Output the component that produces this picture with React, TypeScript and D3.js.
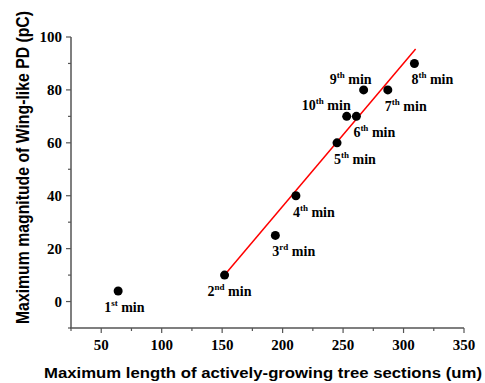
import React, { useEffect, useRef } from 'react';
import * as d3 from 'd3';

const minuteLabels = ['1', '2', '3', '4', '5', '6', '7', '8', '9', '10'];
const minuteSuffix = ['st', 'nd', 'rd', 'th', 'th', 'th', 'th', 'th', 'th', 'th'];
const lengthUm = [64, 152, 194, 211, 245, 261, 287, 309, 267, 253];
const magnitudePc = [4, 10, 25, 40, 60, 70, 80, 90, 80, 70];

// linear fit (2nd..8th min)
const fitX = [152, 310];
const fitY = [10, 95.5];

const xTicks = [50, 100, 150, 200, 250, 300, 350];
const yTicks = [0, 20, 40, 60, 80, 100];

const App: React.FC = () => {
  const svgRef = useRef<SVGSVGElement | null>(null);

  useEffect(() => {
    if (!svgRef.current) return;
    const W = 485;
    const H = 383;
    const svg = d3.select(svgRef.current).attr('width', W).attr('height', H);
    svg.selectAll('*').remove();

    const left = 71, right = 464, top = 37, bottom = 328;
    const x = d3.scaleLinear().domain([25, 350]).range([left, right]);
    const y = d3.scaleLinear().domain([-10, 100]).range([bottom, top]);

    const axisColor = '#555';
    const serif = '"Liberation Serif", "Times New Roman", serif';
    const sans = '"Liberation Sans", Arial, sans-serif';

    // minor ticks
    const xMinor = d3.range(25, 351, 25).filter(v => !xTicks.includes(v));
    const yMinor = d3.range(-10, 101, 10).filter(v => !yTicks.includes(v));

    const gx = svg.append('g').attr('transform', `translate(0,${bottom})`);
    gx.append('line').attr('x1', left - 1).attr('x2', right).attr('stroke', axisColor).attr('stroke-width', 1.5);
    gx.selectAll('.maj').data(xTicks).enter().append('line')
      .attr('x1', d => x(d)).attr('x2', d => x(d)).attr('y1', 0).attr('y2', 5)
      .attr('stroke', axisColor).attr('stroke-width', 1.2);
    gx.selectAll('.min').data(xMinor).enter().append('line')
      .attr('x1', d => x(d)).attr('x2', d => x(d)).attr('y1', 0).attr('y2', 3)
      .attr('stroke', axisColor).attr('stroke-width', 1.2);
    gx.selectAll('.lab').data(xTicks).enter().append('text')
      .attr('x', d => x(d)).attr('y', 22)
      .attr('text-anchor', 'middle')
      .attr('font-family', serif).attr('font-weight', 'bold').attr('font-size', 15)
      .text(d => d);

    const gy = svg.append('g').attr('transform', `translate(${left},0)`);
    gy.append('line').attr('y1', top).attr('y2', bottom).attr('stroke', axisColor).attr('stroke-width', 1.5);
    gy.selectAll('.maj').data(yTicks).enter().append('line')
      .attr('y1', d => y(d)).attr('y2', d => y(d)).attr('x1', 0).attr('x2', -5)
      .attr('stroke', axisColor).attr('stroke-width', 1.2);
    gy.selectAll('.min').data(yMinor).enter().append('line')
      .attr('y1', d => y(d)).attr('y2', d => y(d)).attr('x1', 0).attr('x2', -3)
      .attr('stroke', axisColor).attr('stroke-width', 1.2);
    gy.selectAll('.lab').data(yTicks).enter().append('text')
      .attr('x', -9).attr('y', d => y(d) + 5)
      .attr('text-anchor', 'end')
      .attr('font-family', serif).attr('font-weight', 'bold').attr('font-size', 15)
      .text(d => d);

    // axis titles (the original is a bit wider than tall, hence the scale)
    svg.append('text')
      .attr('transform', 'translate(263,378) scale(1.08,1)')
      .attr('text-anchor', 'middle')
      .attr('font-family', sans).attr('font-weight', 'bold').attr('font-size', 15.5)
      .text('Maximum length of actively-growing tree sections (um)');
    svg.append('text')
      .attr('transform', 'translate(29,167.5) scale(1.12,1) rotate(-90)')
      .attr('text-anchor', 'middle')
      .attr('font-family', sans).attr('font-weight', 'bold').attr('font-size', 15.8)
      .text('Maximum magnitude of Wing-like PD (pC)');

    // fit line
    const line = d3.line<number>().x((d, i) => x(fitX[i])).y(d => y(d));
    svg.append('path').datum(fitY).attr('d', line)
      .attr('fill', 'none').attr('stroke', '#f00').attr('stroke-width', 1.5);

    // points
    const idx = d3.range(lengthUm.length);
    svg.selectAll('circle').data(idx).enter().append('circle')
      .attr('cx', i => x(lengthUm[i])).attr('cy', i => y(magnitudePc[i]))
      .attr('r', 4.5).attr('fill', '#000');

    // labels
    const above = (i: number) => i === 8 || i === 9;
    const labels = svg.selectAll('.pl').data(idx).enter().append('text')
      .attr('x', i => {
        const px = x(lengthUm[i]);
        if (above(i)) return px + (i === 8 ? 8 : 4);
        if (i === 0) return px - 14;
        if (i === 1) return px - 17;
        return px - 3;
      })
      .attr('y', i => y(magnitudePc[i]) + (above(i) ? -6 : 21))
      .attr('text-anchor', i => (above(i) ? 'end' : 'start'))
      .attr('font-family', serif).attr('font-weight', 'bold').attr('font-size', 14);
    labels.append('tspan').text(i => minuteLabels[i]);
    labels.append('tspan').attr('font-size', 9).attr('dy', -6).text(i => minuteSuffix[i]);
    labels.append('tspan').attr('dy', 6).text(' min');
  }, []);

  return <svg ref={svgRef} style={{ position: 'absolute', left: 0, top: 0 }} />;
};

export default App;
